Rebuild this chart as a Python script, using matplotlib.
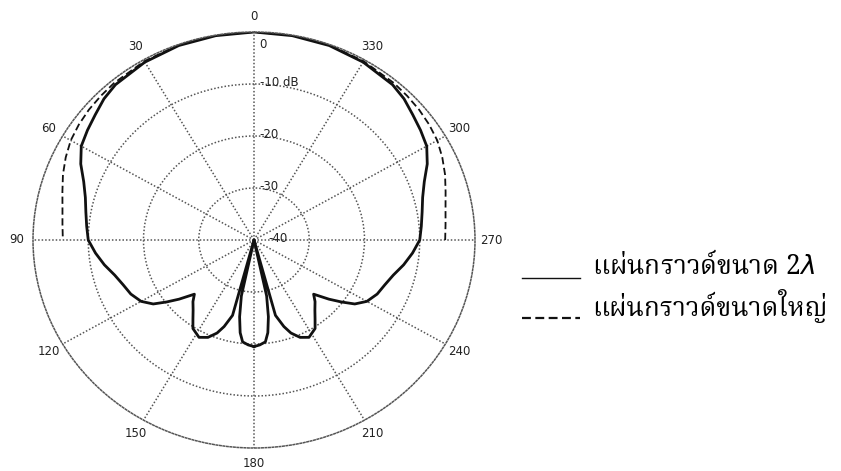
import numpy as np
import matplotlib.pyplot as plt
import matplotlib.font_manager as fm
from matplotlib.ft2font import FT2Font
from matplotlib.lines import Line2D

# radiation pattern, left half (degrees from broadside, counter-clockwise), dB
ang_2lambda = [0, 10, 20, 30, 40, 45, 50, 55, 60, 65, 70, 75, 80, 85, 90,
               95, 100, 105, 110, 115, 120, 124, 127, 130, 134, 137, 140.7,
               144, 147, 152, 156, 159.5, 162, 165, 166.5, 168, 170, 172, 174, 177, 180]
db_2lambda = [0, -0.1, -0.2, -0.5, -1.0, -1.6, -2.5, -3.2, -3.9, -5.4, -7.2, -8.4, -9.1, -9.6, -10.0,
              -11.2, -12.5, -13.9, -14.8, -15.4, -16.4, -18.0, -20.2, -22.3, -25.0, -23.8, -22.6,
              -21.2, -19.7, -18.8, -19.5, -20.9, -22.5, -25.0, -40.0, -29.0, -25.0, -22.0, -20.3, -19.8, -19.5]

ang_large = [0, 10, 20, 30, 40, 45, 50, 55, 60, 65, 70, 75, 80, 85, 90]
db_large = [0, 0, -0.1, -0.3, -0.6, -0.8, -1.0, -1.3, -1.7, -2.4, -3.2, -4.1, -4.8, -5.2, -5.4]

theta_ticks = list(range(0, 360, 30))
ring_levels = [-30, -20, -10]
ring_labels = ['0', '-10 dB', '-20', '-30', '-40']
ring_label_r = [0, -10, -20, -30, -40]
legend_labels = ['แผ่นกราวด์ขนาด 2$\\lambda$', 'แผ่นกราวด์ขนาดใหญ่']


def mirrored(ang, db):
    # pattern is symmetric about the 0-180 axis
    a = np.array(ang, dtype=float)
    d = np.array(db, dtype=float)
    th = np.concatenate([-a[::-1], a[1:]])
    return np.deg2rad(th), np.concatenate([d[::-1], d[1:]])


def thai_family():
    prefer = ['Angsana New', 'AngsanaUPC', 'Norasi', 'TH Sarabun New', 'Noto Serif Thai',
              'Laksaman', 'Garuda', 'Loma', 'Noto Sans Thai', 'Kinnari', 'Tlwg Typo']
    found = []
    for f in fm.fontManager.ttflist:
        try:
            if FT2Font(f.fname).get_char_index(0x0E01):
                found.append(f.name)
        except Exception:
            pass
    for p in prefer:
        if p in found:
            return p
    return found[0] if found else 'DejaVu Sans'


thai = thai_family()

fig = plt.figure(figsize=(8.41, 4.71), dpi=100)
ax = fig.add_axes([33 / 841, 23 / 471, 442 / 841, 416 / 471], projection='polar')
ax.set_aspect('auto')
ax.set_theta_zero_location('N')
ax.set_theta_direction(1)
ax.set_ylim(-40, 0)

grid_kw = dict(color='#555555', linestyle=(0, (1, 1.3)), linewidth=1.1)
ax.set_thetagrids(theta_ticks, [str(t) for t in theta_ticks], fontsize=8.5, color='#222222')
ax.set_rgrids(ring_levels, [''] * len(ring_levels))
ax.grid(True, **grid_kw)
ax.spines['polar'].set_edgecolor('#555555')
ax.spines['polar'].set_linestyle((0, (1, 1.3)))
ax.spines['polar'].set_linewidth(1.1)
ax.tick_params(axis='x', pad=1)

th, db = mirrored(ang_2lambda, db_2lambda)
ax.plot(th, db, color='#111111', linewidth=2.0)
th, db = mirrored(ang_large, db_large)
ax.plot(th, db, color='#111111', linewidth=1.3, linestyle=(0, (4, 2)))

for lab, r in zip(ring_labels, ring_label_r):
    dy = -9 if r == 0 else 1
    dx = 10 if r == -40 else 4
    ax.annotate(lab, xy=(0, r), xytext=(dx, dy), textcoords='offset points',
                fontsize=8.5, color='#222222', ha='left', va='center')

# legend drawn beside the plot
for i, (lab, ls) in enumerate(zip(legend_labels, ['-', (0, (4, 2))])):
    y = 1 - (278 + 40 * i) / 471
    fig.add_artist(Line2D([522 / 841, 580 / 841], [y, y], transform=fig.transFigure,
                          color='#111111', linewidth=1.0 if i == 0 else 1.6, linestyle=ls))
    fig.text(592 / 841, y + 12 / 471, lab, family=[thai, 'DejaVu Sans'],
             fontsize=19, va='center', ha='left')

fig.savefig('out.png', dpi=100)
